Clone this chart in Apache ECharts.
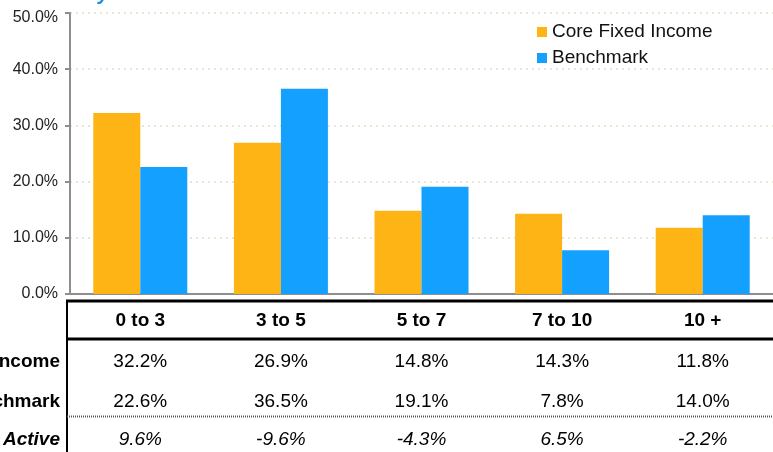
<!DOCTYPE html>
<html>
<head>
<meta charset="utf-8">
<script src="https://cdn.jsdelivr.net/npm/echarts@6/dist/echarts.min.js"></script>
<style>
  html, body { margin: 0; padding: 0; background: #fff; }
  #chart { width: 773px; height: 452px; }
</style>
</head>
<body>
<div id="chart"></div>
<script>
// Maturity buckets (years)
const categories = ['0 to 3', '3 to 5', '5 to 7', '7 to 10', '10 +'];
// Weights in percent
const coreFixedIncome = [32.2, 26.9, 14.8, 14.3, 11.8];
const benchmark = [22.6, 36.5, 19.1, 7.8, 14.0];
const active = [9.6, -9.6, -4.3, 6.5, -2.2];
const seriesNames = ['Core Fixed Income', 'Benchmark', 'Active'];
const yTicks = [0, 10, 20, 30, 40, 50];

const FONT = '"Liberation Sans", Arial, Helvetica, sans-serif';
const ORANGE = '#FDB414';
const BLUE = '#14A0FE';

const chart = echarts.init(document.getElementById('chart'), null, { renderer: 'canvas' });

const option = {
  animation: false,
  backgroundColor: '#ffffff',
  textStyle: { fontFamily: FONT },
  grid: { left: 70, right: -4, top: 13, bottom: 158, containLabel: false },
  legend: {
    orient: 'vertical',
    left: 537,
    top: 22,
    padding: 0,
    icon: 'rect',
    itemWidth: 10,
    itemHeight: 10,
    itemGap: 6,
    data: [seriesNames[0], seriesNames[1]],
    textStyle: { fontFamily: FONT, fontSize: 19, color: '#111', lineHeight: 20 }
  },
  xAxis: {
    type: 'category',
    data: categories,
    boundaryGap: true,
    axisLabel: { show: false },
    axisTick: { show: false },
    axisLine: { lineStyle: { color: '#8e8e8e', width: 2 } },
    splitLine: { show: false }
  },
  yAxis: {
    type: 'value',
    min: yTicks[0],
    max: yTicks[yTicks.length - 1],
    interval: 10,
    axisLine: { show: true, lineStyle: { color: '#8e8e8e', width: 2 } },
    axisTick: { show: true, length: 5, lineStyle: { color: '#8e8e8e', width: 2 } },
    axisLabel: {
      fontFamily: FONT, fontSize: 16, color: '#222', margin: 12,
      formatter: v => (v === yTicks[yTicks.length - 1] ? '{top|' + v.toFixed(1) + '%}' : v.toFixed(1) + '%'),
      rich: { top: { fontFamily: FONT, fontSize: 16, color: '#222', padding: [10, 0, 0, 0] } }
    },
    splitLine: { show: true, lineStyle: { color: '#e8e8d4', width: 2, type: [2, 4] } }
  },
  series: [
    {
      name: seriesNames[0], type: 'bar', data: coreFixedIncome,
      barWidth: 47, barGap: '0%',
      itemStyle: { color: ORANGE }
    },
    {
      name: seriesNames[1], type: 'bar', data: benchmark,
      barWidth: 47, barGap: '0%',
      itemStyle: { color: BLUE }
    }
  ]
};

chart.setOption(option);

// Data table beneath the plot, aligned with the category centres
const fmt = v => v.toFixed(1) + '%';
const els = [];
const tableLeft = 67;
const rowY = { header: 321, core: 362, bench: 402, active: 440 };

// Title (only its lower edge falls inside the canvas)
els.push({
  type: 'text', x: 109, y: 4,
  style: { text: 'Maturity', fontFamily: FONT, fontSize: 20, fontWeight: 'bold', fontStyle: 'italic',
           fill: '#1a8fe0', align: 'right', verticalAlign: 'bottom' }
});

// Borders
els.push({ type: 'line', shape: { x1: tableLeft - 1, y1: 301, x2: 773, y2: 301 }, style: { stroke: '#000', lineWidth: 3 } });
els.push({ type: 'line', shape: { x1: tableLeft, y1: 300, x2: tableLeft, y2: 452 }, style: { stroke: '#000', lineWidth: 2 } });
els.push({ type: 'line', shape: { x1: tableLeft, y1: 339, x2: 773, y2: 339 }, style: { stroke: '#000', lineWidth: 3 } });
els.push({ type: 'line', shape: { x1: tableLeft, y1: 416.5, x2: 773, y2: 416.5 }, style: { stroke: '#555', lineWidth: 2, lineDash: [1, 1] } });

// Row labels, right-aligned against the table edge
const rowLabelStyle = { fontFamily: FONT, fontSize: 19, fontWeight: 'bold', fill: '#000', align: 'right', verticalAlign: 'middle' };
els.push({ type: 'text', x: 60, y: rowY.core, style: Object.assign({ text: seriesNames[0] }, rowLabelStyle) });
els.push({ type: 'text', x: 60, y: rowY.bench, style: Object.assign({ text: seriesNames[1] }, rowLabelStyle) });
els.push({ type: 'text', x: 60, y: rowY.active, style: Object.assign({ text: seriesNames[2], fontStyle: 'italic' }, rowLabelStyle) });

categories.forEach((c, i) => {
  const cx = chart.convertToPixel({ xAxisIndex: 0 }, c);
  const base = { fontFamily: FONT, fontSize: 19, fill: '#000', align: 'center', verticalAlign: 'middle' };
  els.push({ type: 'text', x: cx, y: rowY.header, style: Object.assign({ text: c, fontWeight: 'bold' }, base) });
  els.push({ type: 'text', x: cx, y: rowY.core, style: Object.assign({ text: fmt(coreFixedIncome[i]) }, base) });
  els.push({ type: 'text', x: cx, y: rowY.bench, style: Object.assign({ text: fmt(benchmark[i]) }, base) });
  els.push({ type: 'text', x: cx, y: rowY.active, style: Object.assign({ text: fmt(active[i]), fontStyle: 'italic' }, base) });
});

chart.setOption({ graphic: { elements: els } });
</script>
</body>
</html>
